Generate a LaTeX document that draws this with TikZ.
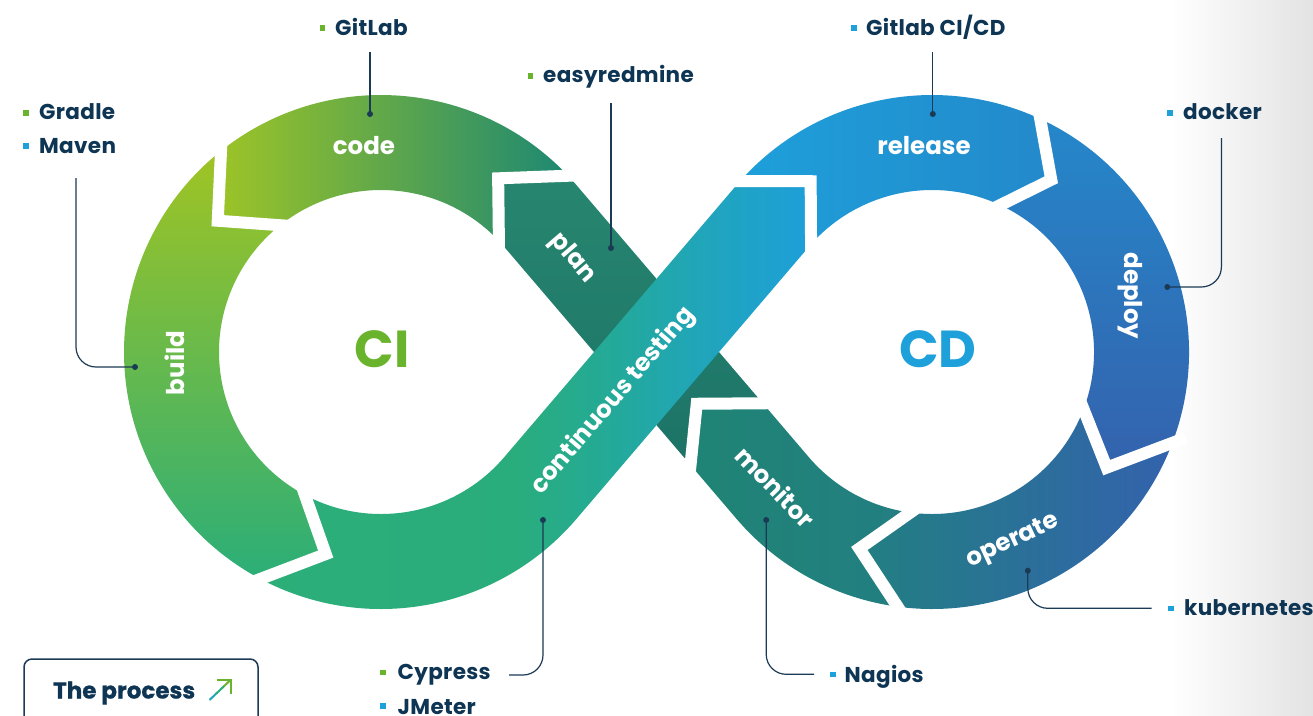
\documentclass[tikz,border=0pt]{standalone}
\usepackage{fontspec}
\setmainfont{Poppins}
\newfontfamily\lblfont[LetterSpace=1.5]{Poppins}
\newfontfamily\heavyfont[BoldFeatures={FakeBold=0.8}]{Poppins}
\usetikzlibrary{calc}
\definecolor{navy}{HTML}{0E3553}
\definecolor{lineC}{HTML}{1B3A55}
\definecolor{ciG}{HTML}{6AB42D}
\definecolor{cdB}{HTML}{1EA0DB}
\definecolor{bgGray}{HTML}{E3E3E3}
\definecolor{codeA}{HTML}{9DC427}
\definecolor{codeB}{HTML}{7EB24A}
\definecolor{codeC}{HTML}{1D8872}
\definecolor{buildA}{HTML}{A0C423}
\definecolor{buildB}{HTML}{7CBA4A}
\definecolor{buildC}{HTML}{2BAE78}
\definecolor{ctA}{HTML}{2BAE78}
\definecolor{ctA2}{HTML}{2AAD7C}
\definecolor{ctB}{HTML}{24AA95}
\definecolor{ctC}{HTML}{20A5BA}
\definecolor{ctD}{HTML}{1E9FDA}
\definecolor{planA}{HTML}{27866F}
\definecolor{planB}{HTML}{1C7367}
\definecolor{relA}{HTML}{1EA0DA}
\definecolor{relB}{HTML}{2389CB}
\definecolor{depA}{HTML}{2587CA}
\definecolor{depB}{HTML}{3462AD}
\definecolor{opA}{HTML}{227F82}
\definecolor{opB}{HTML}{3362AD}
\definecolor{monA}{HTML}{1F8474}
\definecolor{monB}{HTML}{237E82}
\pgfdeclarehorizontalshading{ctshade}{100bp}{color(0bp)=(ctA); color(25bp)=(ctA); color(48bp)=(ctA2); color(56bp)=(ctB); color(65bp)=(ctC); color(75bp)=(ctD); color(100bp)=(ctD)}
\begin{document}
\begin{tikzpicture}[x=1pt,y=-1pt,
  lbl/.style={anchor=base west, text=navy, inner sep=0pt, font=\lblfont\bfseries\fontsize{21.5}{25}\selectfont},
  seg/.style={text=white, inner sep=0pt, font=\bfseries\fontsize{24.5}{28}\selectfont},
  big/.style={inner sep=0pt, font=\bfseries\fontsize{52}{56}\selectfont},
  gap/.style={draw=white, line width=12pt, line join=miter},
  conn/.style={draw=lineC, line width=1.2pt, rounded corners=20pt},
  dotc/.style={fill=lineC},
  gbul/.style={fill=ciG},
  bbul/.style={fill=cdB}]
\useasboundingbox (0,0) rectangle (1313,715);
\fill[white] (0,0) rectangle (1313,715);
\shade[left color=white, right color=bgGray] (1170,0) rectangle (1313,715);

\coordinate (L) at (381,352);
\coordinate (R) at (932,352);
\coordinate (X) at (656.5,352);
% cuts on the left ring
\coordinate (c8o) at ($(L)+(316.7:257)$);
\coordinate (c8t) at ($(L)+(304:209.5)$);
\coordinate (c8i) at ($(L)+(316.7:162)$);
\coordinate (c1o) at ($(L)+(231.5:257)$);
\coordinate (c1t) at ($(L)+(218.8:209.5)$);
\coordinate (c1i) at ($(L)+(231.5:162)$);
\coordinate (c2o) at ($(L)+(118:257)$);
\coordinate (c2t) at ($(L)+(105.3:209.5)$);
\coordinate (c2i) at ($(L)+(118:162)$);
% cuts on the right ring
\coordinate (c3o) at ($(R)+(221.7:257)$);
\coordinate (c3t) at ($(R)+(234.6:209.5)$);
\coordinate (c3i) at ($(R)+(221.7:162)$);
\coordinate (c4o) at ($(R)+(294.9:257)$);
\coordinate (c4t) at ($(R)+(304.7:209.5)$);
\coordinate (c4i) at ($(R)+(294.9:162)$);
\coordinate (c5o) at ($(R)+(20.7:257)$);
\coordinate (c5t) at ($(R)+(33.5:209.5)$);
\coordinate (c5i) at ($(R)+(20.7:162)$);
\coordinate (c6o) at ($(R)+(97.7:257)$);
\coordinate (c6t) at ($(R)+(110.3:209.5)$);
\coordinate (c6i) at ($(R)+(97.7:162)$);
% cut on the straight band
\coordinate (c7o) at ($(X)+(49.5:108)+(139.5:47.5)$);
\coordinate (c7i) at ($(X)+(49.5:108)+(-40.5:47.5)$);
\coordinate (c7t) at ($(X)+(49.5:65.5)+(139.5:3)$);

% pieces
\shade[left color=codeA, middle color=codeB, right color=codeC]
  (c8o) arc[start angle=316.7,end angle=231.5,radius=257] -- (c1t) -- (c1i)
  arc[start angle=231.5,end angle=316.7,radius=162] -- (c8t) -- cycle;
\shade[top color=buildA, middle color=buildB, bottom color=buildC]
  (c1o) arc[start angle=231.5,end angle=118,radius=257] -- (c2t) -- (c2i)
  arc[start angle=118,end angle=231.5,radius=162] -- (c1t) -- cycle;
\shade[top color=planA, bottom color=planB]
  (c7i) -- ($(L)+(319.5:257)$) arc[start angle=319.5,end angle=316.7,radius=257] -- (c8t) -- (c8i)
  arc[start angle=316.7,end angle=319.5,radius=162] -- (c7o) -- (c7t) -- cycle;
\shade[shading=ctshade]
  (c2o) arc[start angle=118,end angle=40.5,radius=257] -- ($(R)+(220.5:162)$)
  arc[start angle=220.5,end angle=221.7,radius=162] -- (c3t) -- (c3o)
  arc[start angle=221.7,end angle=220.5,radius=257] -- ($(L)+(40.5:162)$)
  arc[start angle=40.5,end angle=118,radius=162] -- (c2t) -- cycle;
\shade[left color=relA, right color=relB]
  (c3o) arc[start angle=221.7,end angle=294.9,radius=257] -- (c4t) -- (c4i)
  arc[start angle=294.9,end angle=221.7,radius=162] -- (c3t) -- cycle;
\shade[top color=depA, bottom color=depB]
  (c4o) arc[start angle=294.9,end angle=380.7,radius=257] -- (c5t) -- (c5i)
  arc[start angle=380.7,end angle=294.9,radius=162] -- (c4t) -- cycle;
\shade[left color=opA, right color=opB]
  (c5o) arc[start angle=20.7,end angle=97.7,radius=257] -- (c6t) -- (c6i)
  arc[start angle=97.7,end angle=20.7,radius=162] -- (c5t) -- cycle;
\shade[left color=monA, right color=monB]
  (c6o) arc[start angle=97.7,end angle=139.5,radius=257] -- (c7o) -- (c7t) -- (c7i)
  -- ($(R)+(139.5:162)$) arc[start angle=139.5,end angle=97.7,radius=162] -- (c6t) -- cycle;

% white gaps
\foreach \c in {1,...,8}{
  \draw[gap] ($(c\c t)!1.2!(c\c o)$) -- (c\c t) -- ($(c\c t)!1.2!(c\c i)$);
}

% segment labels
\node[seg] (code) at (364,146) {code};
\node[seg, rotate=90] (build) at (175,363) {build};
\node[seg, rotate=-49.5] (plan) at (572.5,258.3) {plan};
\node[seg, rotate=49.5] (ct) at (613.3,400.8) {continuous testing};
\node[seg] (release) at (924,146) {release};
\node[seg, rotate=-90] (deploy) at (1130.6,295.8) {deploy};
\node[seg, rotate=25] (operate) at (1013,541.7) {operate};
\node[seg, rotate=-46] (monitor) at (775.5,486.7) {monitor};

\node[big, text=ciG] (ci) at (382,349) {CI};
\node[big, text=cdB] (cd) at (938,349) {CD};

% tool labels
\fill[gbul] (319.7,25.2) rectangle (325.3,30.8);
\node[lbl] (gitlab) at (335,35) {GitLab};
\fill[gbul] (527.7,73.2) rectangle (533.3,78.8);
\node[lbl] (easy) at (543,82) {easyredmine};
\fill[gbul] (23.2,110.2) rectangle (28.8,115.8);
\node[lbl] (gradle) at (39,119.3) {Gradle};
\fill[bbul] (23.2,143.2) rectangle (28.8,148.8);
\node[lbl] (maven) at (39,153) {Maven};
\fill[bbul] (851.2,25.2) rectangle (856.8,30.8);
\node[lbl] (gitlabcd) at (866,35) {Gitlab CI/CD};
\fill[bbul] (1167.2,110.2) rectangle (1172.8,115.8);
\node[lbl] (docker) at (1183,119.3) {docker};
\fill[bbul] (1168.2,605.5) rectangle (1173.8,611.1);
\node[lbl] (kube) at (1184,615) {kubernetes};
\fill[bbul] (830,671.5) rectangle (835.6,677.1);
\node[lbl] (nagios) at (844.5,682.7) {Nagios};
\fill[gbul] (380.2,669.5) rectangle (385.8,675.1);
\node[lbl] (cypress) at (397.5,679.5) {Cypress};
\fill[bbul] (380.2,703.2) rectangle (385.8,708.8);
\node[lbl] (jmeter) at (397.5,714) {JMeter};

% connectors
\coordinate (gitlab-top) at (370,52);
\coordinate (gitlab-dot) at (370,114);
\draw[conn] (gitlab-top) -- (gitlab-dot);
\coordinate (easy-top) at (611,103);
\coordinate (easy-dot) at (611,248);
\draw[conn] (easy-top) -- (easy-dot);
\coordinate (gm-top) at (76,178);
\coordinate (gm-dot) at (135,367);
\draw[conn] (gm-top) -- (gm-top |- gm-dot) -- (gm-dot);
\coordinate (gcd-top) at (932.8,52);
\coordinate (gcd-dot) at (932.8,114);
\draw[conn] (gcd-top) -- (gcd-dot);
\coordinate (docker-top) at (1221.4,138);
\coordinate (docker-dot) at (1167.3,287);
\draw[conn] (docker-top) -- (docker-top |- docker-dot) -- (docker-dot);
\coordinate (kube-dot) at (1027.8,570.7);
\coordinate (kube-end) at (1151.5,608.3);
\draw[conn] (kube-dot) -- (kube-dot |- kube-end) -- (kube-end);
\coordinate (nagios-dot) at (766.2,520);
\coordinate (nagios-end) at (814,674.3);
\draw[conn] (nagios-dot) -- (nagios-dot |- nagios-end) -- (nagios-end);
\coordinate (cyp-dot) at (543,520);
\coordinate (cyp-end) at (509,675);
\draw[conn] (cyp-dot) -- (cyp-dot |- cyp-end) -- (cyp-end);
\foreach \d in {gitlab-dot,easy-dot,gm-dot,gcd-dot,docker-dot,kube-dot,nagios-dot,cyp-dot}
  \fill[dotc] (\d) circle[radius=3];

% the process button
\draw[draw=lineC, line width=1.5pt, rounded corners=8pt] (24,740) -- (24,659) -- (258,659) -- (258,740);
\node[anchor=base west, inner sep=0pt, text=navy, font=\heavyfont\bfseries\fontsize{23}{27}\selectfont] (proc) at (53,698.5) {The process};
\coordinate (arr-a) at (209.5,700);
\coordinate (arr-b) at (230.5,680);
\draw[line width=2pt, color=ctC] (arr-a) -- ($(arr-a)!0.35!(arr-b)$);
\draw[line width=2pt, color=ctA] ($(arr-a)!0.33!(arr-b)$) -- ($(arr-a)!0.7!(arr-b)$);
\draw[line width=2pt, color=ciG, line join=miter] ($(arr-a)!0.68!(arr-b)$) -- (arr-b);
\draw[line width=2pt, color=ciG, line join=miter] (216.5,680) -- (arr-b) -- (230.5,694);
\end{tikzpicture}
\end{document}
